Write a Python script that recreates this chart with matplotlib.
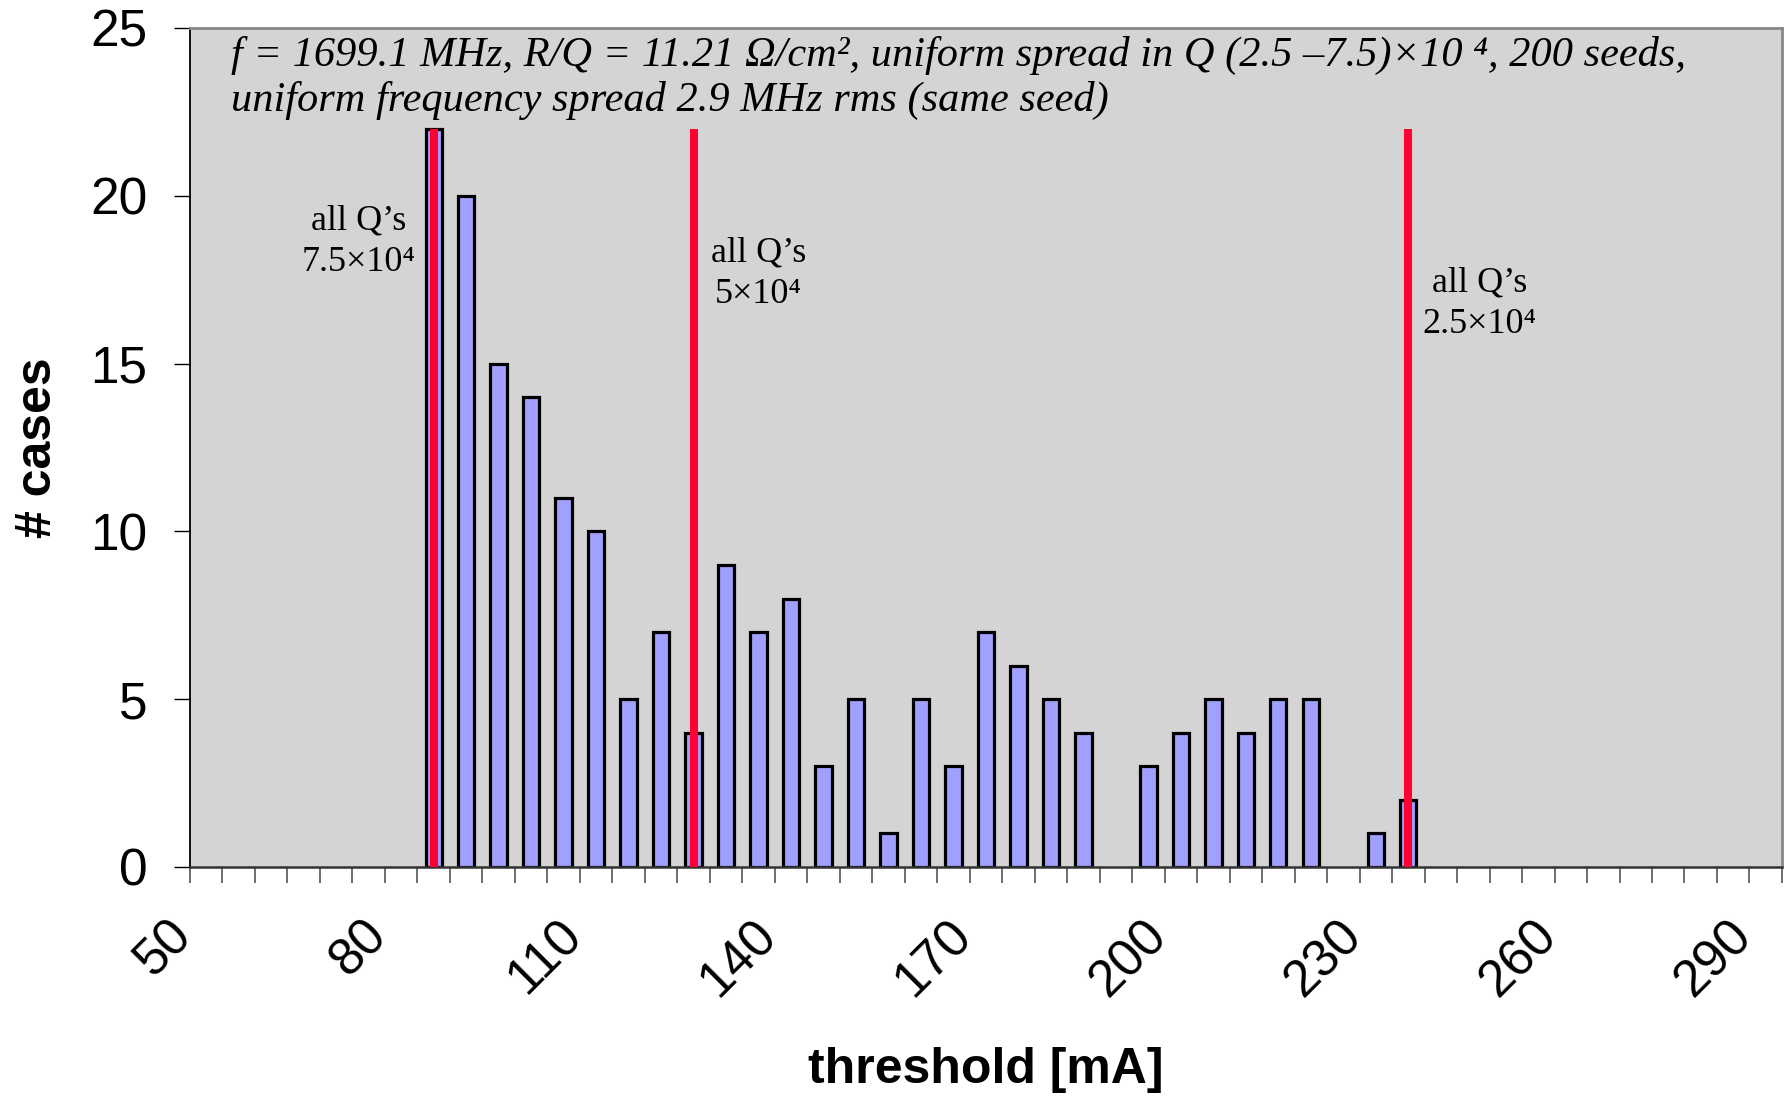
import matplotlib
matplotlib.use("Agg")
import matplotlib.pyplot as plt
import matplotlib.transforms as mtransforms
import numpy as np

# threshold histogram, 200 seeds, 5 mA bins
thresholds = [50, 55, 60, 65, 70, 75, 80, 85, 90, 95,
              100, 105, 110, 115, 120, 125, 130, 135, 140, 145,
              150, 155, 160, 165, 170, 175, 180, 185, 190, 195,
              200, 205, 210, 215, 220, 225, 230, 235, 240, 245,
              250, 255, 260, 265, 270, 275, 280, 285, 290]
counts = [0, 0, 0, 0, 0, 0, 0, 22, 20, 15,
          14, 11, 10, 5, 7, 4, 9, 7, 8, 3,
          5, 1, 5, 3, 7, 6, 5, 4, 0, 3,
          4, 5, 4, 5, 5, 0, 1, 2, 0, 0,
          0, 0, 0, 0, 0, 0, 0, 0, 0]

# thresholds when every cavity has the same Q
q_thresholds = [85, 125, 235]
q_values = ["7.5", "5", "2.5"]
q_line_top = 22
q_label_pos = [(4.7, 18.62), (17.0, 17.68), (39.2, 16.78)]

tick_labels = [50, 80, 110, 140, 170, 200, 230, 260, 290]

sans = ["Liberation Sans", "DejaVu Sans"]
serif = ["Liberation Serif", "DejaVu Serif"]

fig = plt.figure(figsize=(17.92, 10.98), dpi=100)
ax = fig.add_axes([0.106, 0.2104, 0.8884, 0.7641])
ax.set_facecolor("#D4D4D4")

x = np.arange(len(thresholds))
cnt = np.array(counts)
nz = cnt > 0
ax.bar(x[nz], cnt[nz], width=0.5, color="#A0A0FF", edgecolor="black",
       linewidth=2.3, zorder=2)

for t in q_thresholds:
    i = thresholds.index(t)
    ax.plot([i, i], [0, q_line_top], color="#FF0033", linewidth=5.8,
            solid_capstyle="butt", zorder=3)

for (px, py), q in zip(q_label_pos, q_values):
    ax.text(px, py, "all Q\u2019s\n" + q + "\u00d710\u2074", ha="center", va="center",
            multialignment="center", fontsize=26, family=serif, linespacing=1.35,
            zorder=4)

ax.text(0.026, 0.99,
        "f = 1699.1 MHz, R/Q = 11.21 \u03a9/cm\u00b2, uniform spread in Q (2.5 \u20137.5)\u00d710 \u2074, 200 seeds,\n"
        "uniform frequency spread 2.9 MHz rms (same seed)",
        transform=ax.transAxes, ha="left", va="top", fontsize=30.5,
        family=serif, style="italic", linespacing=1.2)

ax.set_xlim(-0.5, len(thresholds) - 0.5)
ax.set_ylim(0, 25)

# category boundaries get the tick marks, labels every 6th bin
ax.set_xticks(np.arange(len(thresholds) + 1) - 0.5, minor=True)
ax.set_xticks([thresholds.index(v) for v in tick_labels])
ax.set_xticklabels([str(v) for v in tick_labels])
ax.tick_params(axis="x", which="major", length=0, pad=44, labelsize=37)
ax.tick_params(axis="x", which="minor", length=11.5, width=1.2, color="#555555")
shift = mtransforms.ScaledTranslation(-0.22, 0, fig.dpi_scale_trans)
for lab in ax.get_xticklabels():
    lab.set_rotation(45)
    lab.set_rotation_mode("anchor")
    lab.set_ha("right")
    lab.set_va("center")
    lab.set_family(sans)
    lab.set_transform(lab.get_transform() + shift)

ax.set_yticks([0, 5, 10, 15, 20, 25])
ax.tick_params(axis="y", length=11.5, width=1.0, pad=19, labelsize=37)
for lab in ax.get_yticklabels():
    lab.set_family(sans)

ax.spines["left"].set_color("black")
ax.spines["left"].set_linewidth(1.3)
ax.spines["bottom"].set_color("#333333")
ax.spines["bottom"].set_linewidth(1.8)
for s in ("top", "right"):
    ax.spines[s].set_color("#888888")
    ax.spines[s].set_linewidth(2.0)

ax.set_xlabel("threshold [mA]", fontsize=36, fontweight="bold", family=sans, va="top")
ax.xaxis.set_label_coords(0.5, -0.214)
ax.set_ylabel("# cases", fontsize=36, fontweight="bold", family=sans, va="bottom")
ax.yaxis.set_label_coords(-0.081, 0.5)

fig.savefig("out.png", dpi=100)
